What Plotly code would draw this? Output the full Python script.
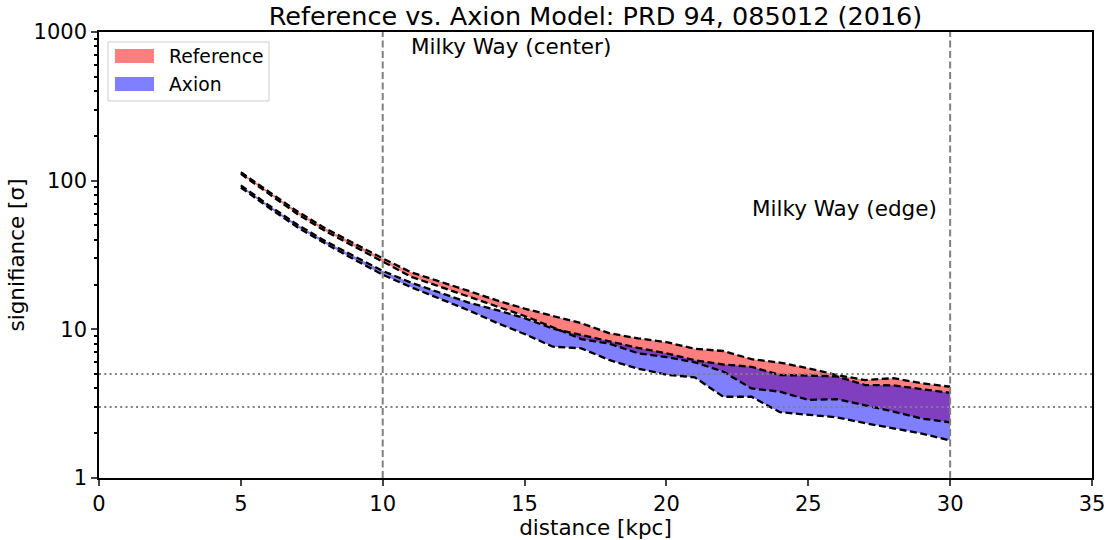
import plotly.graph_objects as go

distance = list(range(5, 31))

ref_hi = [114, 84, 62, 47.5, 37.5, 30, 24.2, 21.1, 18.2, 15.7, 13.8, 12.3, 11.0, 9.4, 8.7, 8.2,
          7.4, 7.15, 6.3, 5.97, 5.47, 4.93, 4.56, 4.69, 4.34, 4.11]
ref_lo = [111, 81, 59.5, 45.5, 36, 28.8, 22.6, 19.4, 16.7, 14.4, 12.3, 10.3, 8.6, 8.0, 6.9, 6.5,
          6.0, 5.2, 4.0, 3.81, 3.35, 3.39, 3.08, 2.8, 2.51, 2.37]
axion_hi = [93, 68, 50.5, 39, 31, 24.7, 20.6, 17.6, 15.2, 13.5, 11.9, 10.1, 9.2, 8.3, 7.5, 6.9,
            6.2, 5.8, 5.6, 4.93, 4.88, 4.82, 4.22, 4.2, 3.96, 3.74]
axion_lo = [90, 65.5, 48.5, 37.5, 29.5, 23.3, 19.2, 16.2, 13.5, 11.1, 9.3, 7.64, 7.45, 6.2, 5.44, 4.95,
            4.75, 3.52, 3.52, 2.77, 2.66, 2.56, 2.34, 2.16, 1.99, 1.79]

series_names = ["Reference", "Axion"]
series_colors = ["rgba(255,0,0,0.5)", "rgba(0,0,255,0.5)"]
vlines = [10, 30]
hlines = [3, 5]
xticks = [0, 5, 10, 15, 20, 25, 30, 35]
yticks = [1, 10, 100, 1000]

FONT = "DejaVu Sans"
W, H = 1113, 540
L, R, T, B = 99, 1092, 32, 478


def px(x):
    return (x - L) / (R - L)


def py(y):
    return (B - y) / (B - T)


fig = go.Figure()

# filled bands
for lo, hi, name, col in [(ref_lo, ref_hi, series_names[0], series_colors[0]),
                          (axion_lo, axion_hi, series_names[1], series_colors[1])]:
    fig.add_trace(go.Scatter(x=distance, y=lo, mode="lines", line=dict(width=0),
                             showlegend=False, hoverinfo="skip"))
    fig.add_trace(go.Scatter(x=distance, y=hi, mode="lines", line=dict(width=0),
                             fill="tonexty", fillcolor=col, name=name, showlegend=False))

# dashed boundaries
for arr in [ref_hi, ref_lo, axion_hi, axion_lo]:
    fig.add_trace(go.Scatter(x=distance, y=arr, mode="lines",
                             line=dict(color="black", width=2.3, dash="7px,3.5px"),
                             showlegend=False, hoverinfo="skip"))

for v in vlines:
    fig.add_shape(type="line", xref="x", yref="paper", x0=v, x1=v, y0=0, y1=1,
                  line=dict(color="gray", width=2, dash="7px,3.5px"), layer="above")
for h in hlines:
    fig.add_shape(type="line", xref="paper", yref="y", x0=0, x1=1, y0=h, y1=h,
                  line=dict(color="gray", width=2, dash="2px,3.3px"), layer="above")

fig.add_annotation(x=10.93, y=2.9, xref="x", yref="y", text="Milky Way (center)",
                   showarrow=False, xanchor="left", yanchor="middle",
                   font=dict(family=FONT, size=21.5, color="black"))
fig.add_annotation(x=22.93, y=1.815, xref="x", yref="y", text="Milky Way (edge)",
                   showarrow=False, xanchor="left", yanchor="middle",
                   font=dict(family=FONT, size=21.5, color="black"))

# legend drawn by hand (matplotlib-style patches)
fig.add_shape(type="rect", xref="paper", yref="paper", x0=px(108), x1=px(269), y0=py(101), y1=py(42),
              line=dict(color="#cccccc", width=1), fillcolor="rgba(255,255,255,0.8)", layer="above")
for i, (name, col) in enumerate(zip(series_names, series_colors)):
    ytop = 49 + i * 28
    fig.add_shape(type="rect", xref="paper", yref="paper", x0=px(115), x1=px(154),
                  y0=py(ytop + 14), y1=py(ytop), line=dict(width=0), fillcolor=col, layer="above")
    fig.add_annotation(x=px(167), y=py(ytop + 7), xref="paper", yref="paper", text=name,
                       showarrow=False, xanchor="left", yanchor="middle",
                       font=dict(family=FONT, size=18.8, color="black"))

fig.update_layout(
    width=W, height=H,
    margin=dict(l=L, r=W - R, t=T, b=H - B, autoexpand=False),
    paper_bgcolor="white", plot_bgcolor="white",
    font=dict(family=FONT, size=21, color="black"),
    title=dict(text="Reference vs. Axion Model: PRD 94, 085012 (2016)", x=(L + R) / 2 / W,
               xanchor="center", y=1 - 16 / H, yanchor="middle",
               font=dict(family=FONT, size=25.5, color="black")),
    showlegend=False,
)
fig.update_xaxes(range=[0, 35], tickvals=xticks, ticks="outside", ticklen=6, tickwidth=1.5,
                 showline=True, linecolor="black", linewidth=1.5, mirror=True, showgrid=False,
                 zeroline=False, automargin=False,
                 title=dict(text="distance [kpc]", standoff=5, font=dict(size=21.5)),
                 tickfont=dict(size=21))
fig.update_yaxes(type="log", range=[0, 3], tickvals=yticks, ticktext=[str(t) for t in yticks],
                 ticks="outside", ticklen=6, tickwidth=1.5,
                 minor=dict(tickvals=[m * 10 ** e for e in range(3) for m in range(2, 10)],
                            ticks="outside", ticklen=3, tickcolor="black", showgrid=False),
                 showline=True, linecolor="black", linewidth=1.5, mirror=True, showgrid=False,
                 zeroline=False, automargin=False,
                 title=dict(text="signifiance [σ]", standoff=3, font=dict(size=21.5)),
                 tickfont=dict(size=21))

fig.write_html("out.html")
